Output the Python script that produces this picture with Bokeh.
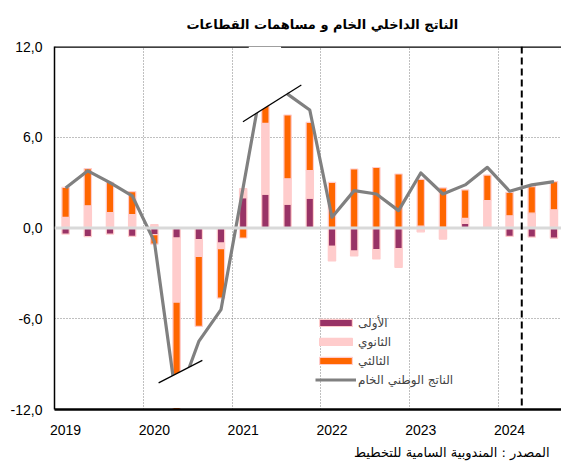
from bokeh.plotting import figure
from bokeh.models import Range1d, FixedTicker, Span, Legend, LegendItem, Title, ColumnDataSource
from bokeh.embed import file_html
from bokeh.resources import INLINE

# ---- data (contributions in percentage points, GDP growth in %) ----
years = ["2019", "2020", "2021", "2022", "2023", "2024"]
year_first_quarter = [0, 4, 8, 12, 16, 20]
quarters = ["2019T1", "2019T2", "2019T3", "2019T4",
            "2020T1", "2020T2", "2020T3", "2020T4",
            "2021T1", "2021T2", "2021T3", "2021T4",
            "2022T1", "2022T2", "2022T3", "2022T4",
            "2023T1", "2023T2", "2023T3", "2023T4",
            "2024T1", "2024T2", "2024T3"]
primary = [-0.40, -0.57, -0.40, -0.55,
           -0.44, -0.67, -0.76, -1.00,
           2.00, 2.24, 1.58, 1.98,
           -1.21, -1.52, -1.43, -1.36,
           0.12, 0.05, 0.31, 0.00,
           -0.55, -0.60, -0.67]
secondary = [0.70, 1.47, 1.01, 0.88,
             0.22, -4.23, -1.12, -0.37,
             0.60, 4.68, 1.67, 1.82,
             -0.97, -0.33, -0.62, -1.24,
             -0.25, -0.73, 0.33, 1.81,
             0.81, 0.98, 1.20]
tertiary = [1.98, 2.46, 2.00, 1.52,
            -0.62, -7.60, -4.62, -3.26,
            -0.66, 2.60, 4.22, 3.18,
            3.02, 3.90, 4.00, 3.57,
            3.10, 2.60, 1.88, 1.69,
            1.55, 1.76, 1.87]
gdp = [2.64, 3.78, 3.00, 2.13,
       -0.90, -11.50, -7.50, -5.40,
       2.70, 10.85, 8.85, 7.80,
       0.71, 2.47, 2.25, 1.15,
       3.64, 2.25, 2.85, 4.01,
       2.43, 2.85, 3.07]

y_ticks = [-12, -6, 0, 6, 12]
y_tick_labels = ["-12,0", "-6,0", "0,0", "6,0", "12,0"]

title_text = "الناتج الداخلي الخام و مساهمات القطاعات"
source_text = "المصدر : المندوبية السامية للتخطيط"
series_names = ["الأولى", "الثانوي", "الثالثي", "الناتج الوطني الخام"]

# axis-break marks (decorations): two endpoints of each oblique stroke
break_marks = [((4.19, -10.24), (6.16, -8.75)), ((7.99, 7.03), (10.62, 9.45))]
forecast_split = 20.55

# ---- stacking (positive and negative parts stacked separately) ----
n = len(gdp)
xs = list(range(n))
pos = [0.0] * n
neg = [0.0] * n
stacks = []
for s in (primary, secondary, tertiary):
    b, t = [], []
    for i, v in enumerate(s):
        if v >= 0:
            b.append(pos[i]); t.append(pos[i] + v); pos[i] += v
        else:
            b.append(neg[i]); t.append(neg[i] + v); neg[i] += v
    stacks.append((b, t))

src = ColumnDataSource(dict(x=xs, gdp=gdp,
                            pb=stacks[0][0], pt=stacks[0][1],
                            sb=stacks[1][0], st=stacks[1][1],
                            tb=stacks[2][0], tt=stacks[2][1]))

p = figure(width=561, height=469, x_range=Range1d(-0.5, 22.34), y_range=Range1d(-12, 12),
           output_backend="svg", toolbar_location=None,
           min_border_left=54, min_border_right=0, min_border_top=46, min_border_bottom=60)
p.outline_line_color = None
p.background_fill_color = "white"

p.title.text = title_text
p.title.align = "left"
p.title.offset = 132
p.title.text_font = "DejaVu Sans"
p.title.text_font_size = "13px"
p.title.text_font_style = "bold"
p.title.text_color = "black"
p.title.standoff = 29

# grids
p.ygrid.ticker = FixedTicker(ticks=[-6, 6])
p.ygrid.grid_line_color = "#808080"
p.ygrid.grid_line_dash = "1 2"
p.ygrid.grid_line_width = 1
p.xgrid.ticker = FixedTicker(ticks=[3.5, 7.5, 11.5, 15.5, 19.5])
p.xgrid.grid_line_color = "#808080"
p.xgrid.grid_line_dash = "1 2"
p.xgrid.grid_line_width = 1

# axes
p.yaxis.ticker = FixedTicker(ticks=y_ticks)
p.yaxis.major_label_overrides = {t: l for t, l in zip(y_ticks, y_tick_labels)}
p.yaxis.major_tick_out = 0
p.yaxis.major_tick_in = 0
p.yaxis.minor_tick_out = 0
p.yaxis.minor_tick_in = 0
p.yaxis.axis_line_color = "black"
p.yaxis.axis_line_width = 1.5
p.yaxis.major_label_text_font = "Liberation Sans"
p.yaxis.major_label_text_font_size = "14px"
p.yaxis.major_label_text_color = "black"
p.yaxis.major_label_standoff = 12

p.xaxis.ticker = FixedTicker(ticks=year_first_quarter)
p.xaxis.major_label_overrides = {t: l for t, l in zip(year_first_quarter, years)}
p.xaxis.major_tick_out = 0
p.xaxis.major_tick_in = 0
p.xaxis.minor_tick_out = 0
p.xaxis.minor_tick_in = 0
p.xaxis.axis_line_color = "black"
p.xaxis.axis_line_width = 2.5
p.xaxis.major_label_text_font = "Liberation Sans"
p.xaxis.major_label_text_font_size = "14px"
p.xaxis.major_label_text_color = "black"
p.xaxis.major_label_standoff = 15

# top frame line (underlay so that the break mask can hide it)
p.add_layout(Span(location=12, dimension="width", line_color="black", line_width=2.5, level="underlay"))

bw = 0.33
r_p = p.vbar(x="x", bottom="pb", top="pt", width=bw, source=src,
             fill_color="#993366", line_color="#FFCCCC", line_width=1.2)
r_s = p.vbar(x="x", bottom="sb", top="st", width=bw, source=src,
             fill_color="#FFCCCC", line_color="#FFCCCC", line_width=1.2)
r_t = p.vbar(x="x", bottom="tb", top="tt", width=bw, source=src,
             fill_color="#FF6600", line_color="#FFCCCC", line_width=1.2)

p.add_layout(Span(location=0, dimension="width", line_color="#D9D9D9", line_width=3))

r_g = p.line(x="x", y="gdp", source=src, line_color="#808080", line_width=3.2, line_join="round")

# axis-break masks and marks
def on_mark(k, x):
    (x0, y0), (x1, y1) = break_marks[k]
    return y0 + (y1 - y0) * (x - x0) / (x1 - x0)

p.patch([4.72, 5.66, 5.66, 4.72], [on_mark(0, 4.72), on_mark(0, 5.66), -11.9, -11.9],
        fill_color="white", line_color=None)
p.patch([8.45, 10.02, 9.7, 8.25], [on_mark(1, 8.45), on_mark(1, 10.02), 12, 12],
        fill_color="white", line_color=None)
p.segment(x0=[m[0][0] for m in break_marks], y0=[m[0][1] for m in break_marks],
          x1=[m[1][0] for m in break_marks], y1=[m[1][1] for m in break_marks],
          line_color="black", line_width=1.2)

p.add_layout(Span(location=forecast_split, dimension="height", line_color="black",
                  line_width=2, line_dash="7 4"))

legend = Legend(items=[LegendItem(label=series_names[0], renderers=[r_p]),
                       LegendItem(label=series_names[1], renderers=[r_s]),
                       LegendItem(label=series_names[2], renderers=[r_t]),
                       LegendItem(label=series_names[3], renderers=[r_g])],
                location=(261, 22), glyph_width=41, glyph_height=9, label_height=15,
                spacing=4, padding=0, margin=0, border_line_alpha=0, background_fill_alpha=0,
                label_text_font="DejaVu Sans", label_text_font_size="12px", label_standoff=2)
p.add_layout(legend)

p.add_layout(Title(text=source_text, align="right", offset=12, text_font="DejaVu Sans",
                   text_font_size="13px", text_font_style="normal", text_color="black",
                   standoff=10), "below")

open("out.html", "w").write(file_html(p, INLINE))
